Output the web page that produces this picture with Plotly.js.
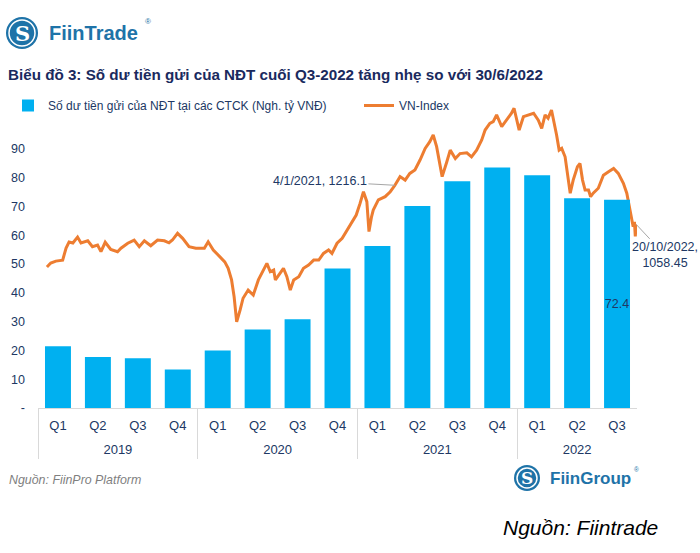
<!DOCTYPE html>
<html>
<head>
<meta charset="utf-8">
<script src="https://cdn.plot.ly/plotly-3.0.1.min.js"></script>
<style>
  body { margin: 0; background: #ffffff; }
  #div_graphe { width: 700px; height: 553px; }
</style>
</head>
<body>
<div id="div_graphe"></div>
<script>
// So du tien gui cua NDT (nghin ty VND), theo quy
let nam = ["2019", "2019", "2019", "2019", "2020", "2020", "2020", "2020",
    "2021", "2021", "2021", "2021", "2022", "2022", "2022"]
let quy = ["Q1", "Q2", "Q3", "Q4", "Q1", "Q2", "Q3", "Q4",
    "Q1", "Q2", "Q3", "Q4", "Q1", "Q2", "Q3"]
let so_du = [21.5, 17.7, 17.3, 13.4, 20.0, 27.3, 30.8, 48.5,
    56.3, 70.2, 78.8, 83.6, 80.9, 72.9, 72.4]

// VN-Index, doc tu hinh
let ngay_vnindex = [
    "2019-01-04", "2019-01-13", "2019-01-25", "2019-02-10", "2019-02-18", "2019-02-25",
    "2019-03-06", "2019-03-17", "2019-03-25", "2019-04-10", "2019-04-21", "2019-05-03",
    "2019-05-11", "2019-05-21", "2019-06-03", "2019-06-19", "2019-06-27", "2019-07-13",
    "2019-07-28", "2019-08-09", "2019-08-21", "2019-09-05", "2019-09-21", "2019-10-07",
    "2019-10-18", "2019-10-26", "2019-11-07", "2019-11-19", "2019-12-04", "2019-12-20",
    "2020-01-09", "2020-01-18", "2020-01-30", "2020-02-15", "2020-02-26", "2020-03-05",
    "2020-03-13", "2020-03-19", "2020-03-25", "2020-04-02", "2020-04-09", "2020-04-21",
    "2020-05-03", "2020-05-15", "2020-05-27", "2020-06-04", "2020-06-12", "2020-06-20",
    "2020-06-24", "2020-07-05", "2020-07-13", "2020-07-21", "2020-07-29", "2020-08-06",
    "2020-08-18", "2020-08-29", "2020-09-10", "2020-09-22", "2020-10-04", "2020-10-15",
    "2020-10-27", "2020-11-04", "2020-11-16", "2020-11-28", "2020-12-09", "2020-12-21",
    "2020-12-31", "2021-01-09", "2021-01-17", "2021-01-25", "2021-01-30", "2021-02-05",
    "2021-02-09", "2021-02-21", "2021-03-09", "2021-03-21", "2021-04-01", "2021-04-13",
    "2021-04-25", "2021-05-06", "2021-05-18", "2021-05-30", "2021-06-11", "2021-06-22",
    "2021-06-30", "2021-07-08", "2021-07-16", "2021-07-21", "2021-08-01", "2021-08-09",
    "2021-08-21", "2021-09-01", "2021-09-17", "2021-09-28", "2021-10-10", "2021-10-22",
    "2021-10-30", "2021-11-10", "2021-11-18", "2021-11-26", "2021-12-08", "2021-12-20",
    "2021-12-31", "2022-01-06", "2022-01-12", "2022-01-18", "2022-01-28", "2022-02-09",
    "2022-02-21", "2022-03-04", "2022-03-12", "2022-03-20", "2022-03-27", "2022-04-04",
    "2022-04-12", "2022-04-16", "2022-04-22", "2022-04-28", "2022-05-06", "2022-05-13",
    "2022-05-18", "2022-05-25", "2022-06-04", "2022-06-10", "2022-06-16", "2022-06-22",
    "2022-06-30", "2022-07-05", "2022-07-11", "2022-07-23", "2022-08-04", "2022-08-16",
    "2022-08-28", "2022-09-08", "2022-09-20", "2022-09-28", "2022-10-04", "2022-10-10",
    "2022-10-13", "2022-10-16", "2022-10-18", "2022-10-20"]
let vnindex = [
    886, 902, 910, 914, 963, 987,
    983, 1007, 983, 992, 968, 975,
    948, 986, 957, 948, 962, 982,
    995, 968, 992, 972, 995, 992,
    984, 995, 1022, 1002, 968, 962,
    962, 988, 955, 928, 907, 881,
    834, 766, 665, 712, 760, 793,
    773, 834, 874, 901, 867, 874,
    834, 860, 881, 847, 793, 834,
    847, 881, 894, 914, 914, 941,
    955, 941, 982, 1002, 1035, 1069,
    1096, 1143, 1190, 1150, 1029, 1089,
    1116, 1157, 1170, 1190, 1216.1, 1251,
    1237, 1264, 1278, 1318, 1365, 1392,
    1419, 1372, 1298, 1251, 1311, 1358,
    1324, 1344, 1347, 1331, 1358, 1399,
    1439, 1466, 1473, 1500, 1453, 1479,
    1507, 1527, 1479, 1439, 1493, 1500,
    1507, 1479, 1446, 1500, 1487, 1520,
    1459, 1419, 1358, 1365, 1331, 1251,
    1184, 1237, 1291, 1304, 1237, 1197,
    1197, 1170, 1184, 1204, 1257, 1271,
    1284, 1264, 1224, 1184, 1130, 1076,
    1049, 1068, 1010, 1058.45]

let y_ticks = [0, 10, 20, 30, 40, 50, 60, 70, 80, 90]
let y_ticktext = ["-", "10", "20", "30", "40", "50", "60", "70", "80", "90"]

let ngay_chu_thich = "2021-04-01"

let bleu = "#1e73a8"
let marine = "#203864"
let police = "'Liberation Sans', Arial, sans-serif"

// zone de trace en pixels
let gauche = 38, droite = 637, haut = 95, bas = 408

function papier_x(p){
    return (p - gauche)/(droite - gauche)
}
function papier_y(p){
    return (bas - p)/(bas - haut)
}

function texte(x, y, t, taille, couleur, options){
    let a = {xref: "paper", yref: "paper", x: papier_x(x), y: papier_y(y), text: t,
        showarrow: false, xanchor: "left", yanchor: "middle",
        font: {family: police, size: taille, color: couleur}}
    return Object.assign(a, options || {})
}

function logo(cx, cy, r){
    return [
        {type: "circle", xref: "paper", yref: "paper",
            x0: papier_x(cx - r), x1: papier_x(cx + r), y0: papier_y(cy + r), y1: papier_y(cy - r),
            fillcolor: bleu, line: {width: 0}},
        {type: "circle", xref: "paper", yref: "paper",
            x0: papier_x(cx - r + 3), x1: papier_x(cx + r - 3), y0: papier_y(cy + r - 3), y1: papier_y(cy - r + 3),
            fillcolor: "rgba(0,0,0,0)", line: {width: 1.5, color: "white"}}
    ]
}

function tracer(){
    let positions = quy.map((q, i) => i)
    // limites et centres des groupes d'annees
    let bornes = []
    let centres = []
    let annees = []
    for (let i = 0; i < nam.length; i++){
        if (i == 0 || nam[i] != nam[i-1]){
            bornes.push(i - 0.5)
            annees.push(nam[i])
            let j = nam.lastIndexOf(nam[i])
            centres.push((i + j)/2)
        }
    }
    let plage = [-0.5, nam.length - 0.5]

    let texte_barres = so_du.map((v, i) => i == so_du.length - 1 ? v.toFixed(1) : "")
    let barres = {
        type: "bar", x: positions, y: so_du, xaxis: "x2", yaxis: "y2",
        name: "Số dư tiền gửi của NĐT tại các CTCK (Ngh. tỷ VNĐ)",
        marker: {color: "#00B0F0"}, legendwidth: 306,
        text: texte_barres, textposition: "inside", insidetextanchor: "middle",
        textangle: 0, constraintext: "none",
        textfont: {family: police, size: 12.5, color: marine}
    }
    let ligne = {
        type: "scatter", mode: "lines", x: ngay_vnindex, y: vnindex,
        xaxis: "x", yaxis: "y", name: "VN-Index",
        line: {color: "#ED7D31", width: 3}
    }
    // traces vides pour afficher les axes des annees
    let axe_bornes = {type: "scatter", x: [], y: [], xaxis: "x3", yaxis: "y2",
        showlegend: false, hoverinfo: "skip"}
    let axe_annees = {type: "scatter", x: [], y: [], xaxis: "x4", yaxis: "y2",
        showlegend: false, hoverinfo: "skip"}

    let i_chu_thich = ngay_vnindex.indexOf(ngay_chu_thich)
    let d = ngay_chu_thich.split("-")
    let dernier = vnindex.length - 1
    let f = ngay_vnindex[dernier].split("-")

    let annotations = [
        {xref: "x", yref: "y", x: ngay_vnindex[i_chu_thich], y: vnindex[i_chu_thich],
            text: Number(d[1]) + "/" + Number(d[2]) + "/" + d[0] + ", " + vnindex[i_chu_thich],
            showarrow: true, arrowhead: 0, arrowwidth: 1, arrowcolor: "#a6a6a6",
            ax: -75, ay: -4, font: {family: police, size: 12.5, color: marine}},
        {xref: "x", yref: "y", x: ngay_vnindex[dernier], y: vnindex[dernier],
            text: f[2] + "/" + f[1] + "/" + f[0] + ",<br>" + vnindex[dernier],
            showarrow: true, arrowhead: 0, arrowwidth: 1, arrowcolor: "#a6a6a6",
            ax: 29, ay: 31, align: "center",
            font: {family: police, size: 12.5, color: marine}},
        texte(47, 33, "<b>FiinTrade</b>", 20, bleu),
        texte(143, 21, "®", 8, bleu),
        texte(22, 33, "<b>S</b>", 21, "white", {xanchor: "center", font: {family: "'DejaVu Serif', serif", size: 21, color: "white"}}),
        texte(7, 480, "<i>Nguồn: FiinPro Platform</i>", 12.4, "#7f7f7f"),
        texte(548, 478, "<b>FiinGroup</b>", 17, bleu),
        texte(632, 470, "®", 6.5, bleu),
        texte(527, 478, "<b>S</b>", 17, "white", {xanchor: "center", font: {family: "'DejaVu Serif', serif", size: 17, color: "white"}}),
        texte(501, 527, "<i>Nguồn: Fiintrade</i>", 21, "black")
    ]

    let layout = {
        width: 700, height: 553,
        paper_bgcolor: "white", plot_bgcolor: "white",
        title: {
            text: "<b>Biểu đồ 3: Số dư tiền gửi của NĐT cuối Q3-2022 tăng nhẹ so với 30/6/2022</b>",
            x: 8/700, xanchor: "left", xref: "container",
            y: 1 - 75/553, yanchor: "middle", yref: "container",
            font: {family: police, size: 15.2, color: "#1a2a5e"}
        },
        xaxis: {type: "date", range: ["2018-12-14", "2022-10-22"], visible: false},
        yaxis: {range: [317, 1580.5], visible: false},
        // quy
        xaxis2: {
            overlaying: "x", anchor: "y2", range: plage,
            tickvals: positions, ticktext: quy,
            showline: true, linecolor: "#d9d9d9", linewidth: 1,
            showgrid: false, zeroline: false, ticks: "",
            ticklabelstandoff: 5,
            tickfont: {family: police, size: 13, color: marine}
        },
        // vach chia nam
        xaxis3: {
            overlaying: "x", anchor: "y2", range: plage,
            tickvals: bornes, showticklabels: false,
            ticks: "outside", ticklen: 50, tickwidth: 1, tickcolor: "#d9d9d9",
            showline: false, showgrid: false, zeroline: false
        },
        // nam
        xaxis4: {
            overlaying: "x", anchor: "y2", range: plage,
            tickvals: centres, ticktext: annees,
            ticks: "", showline: false, showgrid: false, zeroline: false,
            ticklabelstandoff: 32,
            tickfont: {family: police, size: 13, color: marine}
        },
        yaxis2: {
            overlaying: "y", anchor: "x2", side: "left", range: [0, 108.76],
            tickvals: y_ticks, ticktext: y_ticktext,
            showgrid: false, zeroline: false, showline: false, ticks: "",
            ticklabelstandoff: 12,
            tickfont: {family: police, size: 12.5, color: marine}
        },
        bargap: 0.35,
        showlegend: true,
        legend: {
            orientation: "h", x: papier_x(8), xanchor: "left", y: 1 + 4/313, yanchor: "top",
            bgcolor: "rgba(0,0,0,0)", traceorder: "normal",
            font: {family: police, size: 12, color: marine}
        },
        annotations: annotations,
        shapes: [...logo(22, 33, 16), ...logo(527, 478, 13)],
        margin: {l: 38, r: 63, t: 95, b: 145, pad: 0, autoexpand: false}
    }
    Plotly.newPlot("div_graphe", [barres, ligne, axe_bornes, axe_annees], layout, {staticPlot: true})
}

tracer()
</script>
</body>
</html>
